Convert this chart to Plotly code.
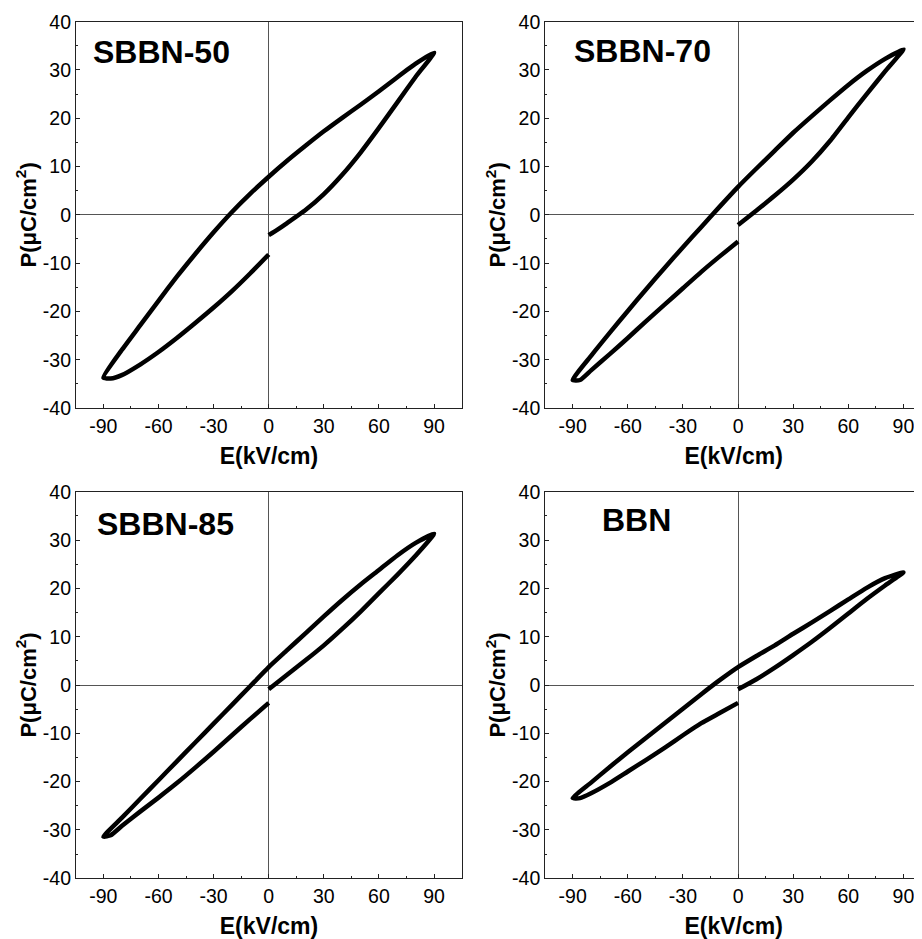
import plotly.graph_objects as go

# ---- data (E in kV/cm, P in uC/cm^2) ----
# Each loop: starts at E=0 on the lower-right branch, rises to +Emax,
# returns along the upper branch to -Emax, then rises back to E=0.
E_sbbn50 = [0, 5, 10, 20, 30, 40, 50, 60, 70, 80, 90,
            80, 70, 60, 50, 40, 30, 20, 10, 0, -10, -20, -30, -40, -50, -60, -70, -80, -90,
            -86, -80, -70, -60, -50, -40, -30, -20, -10, 0]
P_sbbn50 = [-4.2, -3.0, -1.7, 1.0, 4.3, 8.3, 12.9, 18.0, 23.3, 28.6, 33.6,
            31.3, 28.5, 25.6, 22.8, 20.1, 17.3, 14.3, 11.2, 7.9, 4.4, 0.6, -3.6, -8.1, -12.8, -17.8, -22.9, -28.0, -33.7,
            -33.9, -33.2, -31.0, -28.4, -25.5, -22.4, -19.2, -15.8, -12.1, -8.2]

E_sbbn70 = [0, 10, 20, 30, 40, 50, 60, 70, 80, 90,
            80, 70, 60, 50, 40, 30, 20, 10, 0, -10, -20, -30, -40, -50, -60, -70, -80, -90,
            -86, -80, -70, -60, -50, -40, -30, -20, -10, 0]
P_sbbn70 = [-2.1, 0.9, 4.0, 7.3, 11.0, 15.3, 20.2, 25.0, 29.7, 34.3,
            32.3, 29.8, 26.9, 23.7, 20.4, 17.0, 13.3, 9.6, 5.8, 1.7, -2.5, -6.7, -11.0, -15.4, -19.9, -24.5, -29.2, -34.2,
            -34.2, -32.2, -28.9, -25.5, -22.0, -18.6, -15.2, -11.8, -8.6, -5.5]

E_sbbn85 = [0, 10, 20, 30, 40, 50, 60, 70, 80, 90,
            80, 70, 60, 50, 40, 30, 20, 10, 0, -10, -20, -30, -40, -50, -60, -70, -80, -90,
            -86, -80, -70, -60, -50, -40, -30, -20, -10, 0]
P_sbbn85 = [-0.9, 2.1, 5.1, 8.2, 11.6, 15.2, 19.0, 22.8, 26.8, 31.3,
            29.4, 26.8, 23.8, 20.8, 17.6, 14.2, 10.7, 7.2, 3.7, -0.2, -4.1, -8.0, -11.9, -15.8, -19.7, -23.6, -27.5, -31.4,
            -31.1, -29.2, -26.2, -23.3, -20.3, -17.1, -13.8, -10.4, -7.0, -3.7]

E_bbn = [0, 10, 20, 30, 40, 50, 60, 70, 80, 90,
         80, 70, 60, 50, 40, 30, 20, 10, 0, -10, -20, -30, -40, -50, -60, -70, -80, -90,
         -86, -80, -70, -60, -50, -40, -30, -20, -10, 0]
P_bbn = [-0.9, 1.2, 3.6, 6.2, 8.9, 11.8, 14.8, 17.8, 20.6, 23.3,
         22.1, 20.1, 17.7, 15.3, 12.9, 10.6, 8.2, 6.0, 3.7, 1.0, -1.9, -4.9, -7.9, -10.9, -13.9, -17.0, -20.2, -23.4,
         -23.4, -22.4, -20.3, -17.9, -15.5, -13.0, -10.4, -7.9, -5.8, -3.7]

panel_labels = ["SBBN-50", "SBBN-70", "SBBN-85", "BBN"]
x_ticks = [-90, -60, -30, 0, 30, 60, 90]
x_ticklabels = ["-90", "-60", "-30", "0", "30", "60", "90"]
y_ticks = [-40, -30, -20, -10, 0, 10, 20, 30, 40]
y_ticklabels = ["-40", "-30", "-20", "-10", "0", "10", "20", "30", "40"]
x_title = "E(kV/cm)"
y_title = "P(μC/cm<sup>2</sup>)"

series = [(E_sbbn50, P_sbbn50), (E_sbbn70, P_sbbn70), (E_sbbn85, P_sbbn85), (E_bbn, P_bbn)]

# ---- layout geometry (page has an 8px body margin) ----
W, H = 914, 931
xdoms = [[68 / W, 454 / W], [537.3 / W, 1.0], [68 / W, 454 / W], [537.3 / W, 1.0]]
ydoms = [[1 - 400 / H, 1 - 13.7 / H], [1 - 400 / H, 1 - 13.7 / H],
         [1 - 870.3 / H, 1 - 483.7 / H], [1 - 870.3 / H, 1 - 483.7 / H]]
xranges = [[-104.9, 105.2], [-104.9, 100.1], [-104.9, 105.2], [-104.9, 100.1]]
label_pos = [(-96.7, 33.8), (-90.5, 34.0), (-94.6, 33.3), (-75.1, 34.2)]

FONT = "Arial, Liberation Sans, sans-serif"

fig = go.Figure()
layout = dict(
    width=W, height=H,
    margin=dict(l=0, r=0, t=0, b=0),
    paper_bgcolor="white", plot_bgcolor="white",
    showlegend=False,
    font=dict(family=FONT, color="black"),
    template="none",
)
annotations = []
for i, (ex, py) in enumerate(series):
    n = "" if i == 0 else str(i + 1)
    fig.add_trace(go.Scatter(
        x=ex, y=py, mode="lines", xaxis="x" + n, yaxis="y" + n,
        line=dict(color="black", width=4.5, shape="spline", smoothing=0.5),
        hoverinfo="skip",
    ))
    left = i in (0, 2)
    layout["xaxis" + n] = dict(
        domain=xdoms[i], range=xranges[i], anchor="y" + n,
        tickvals=x_ticks, ticktext=x_ticklabels,
        ticks="inside", ticklen=4, tickwidth=1, tickcolor="#222",
        minor=dict(ticks="inside", ticklen=2, dtick=15, tick0=0, tickcolor="#222"),
        showline=True, linecolor="#222", linewidth=1.2, mirror=True,
        showgrid=False, zeroline=True, zerolinecolor="#555", zerolinewidth=1,
        tickfont=dict(size=19.5, family=FONT, color="black"),
        title=dict(text="<b>" + x_title + "</b>", font=dict(size=23, family=FONT), standoff=12),
        automargin=False,
    )
    layout["yaxis" + n] = dict(
        domain=ydoms[i], range=[-40, 40], anchor="x" + n,
        tickvals=y_ticks, ticktext=y_ticklabels,
        ticks="inside", ticklen=4, tickwidth=1, tickcolor="#222",
        minor=dict(ticks="inside", ticklen=2, dtick=5, tick0=0, tickcolor="#222"),
        showline=True, linecolor="#222", linewidth=1.2, mirror=left,
        showgrid=False, zeroline=True, zerolinecolor="#555", zerolinewidth=1,
        tickfont=dict(size=19.5, family=FONT, color="black"),
        title=dict(text="<b>" + y_title + "</b>", font=dict(size=22, family=FONT), standoff=0),
        automargin=False,
    )
    lx, ly = label_pos[i]
    annotations.append(dict(
        x=lx, y=ly, xref="x" + n, yref="y" + n, text="<b>" + panel_labels[i] + "</b>",
        showarrow=False, xanchor="left", yanchor="middle",
        font=dict(size=32, family=FONT, color="black"),
    ))
layout["annotations"] = annotations
fig.update_layout(**layout)
fig.write_html("out.html")
